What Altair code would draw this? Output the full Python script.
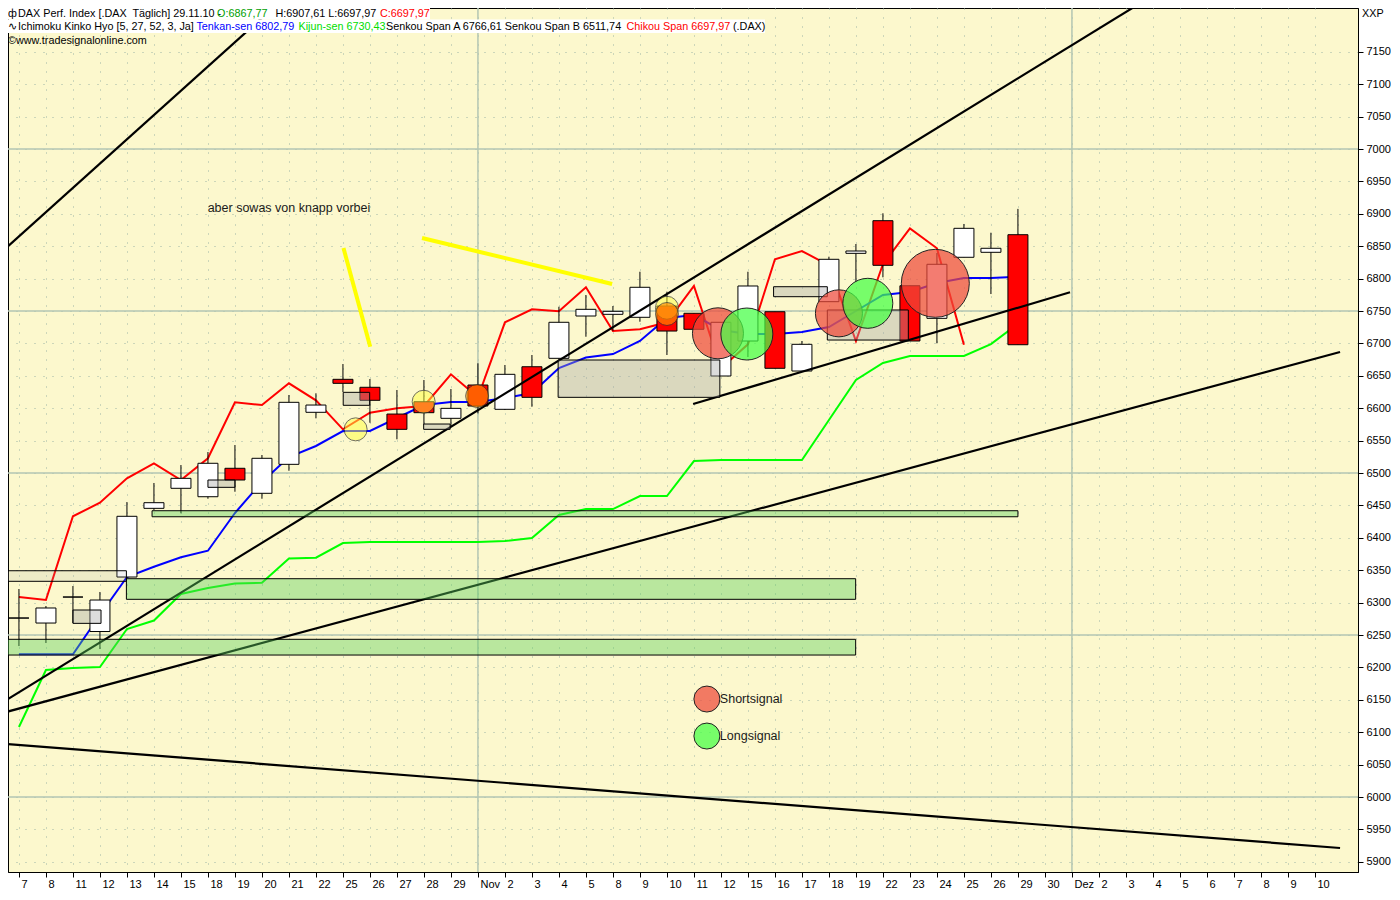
import altair as alt
import pandas as pd

# ---------------- data ----------------
day_labels = ["7", "8", "11", "12", "13", "14", "15", "18", "19", "20", "21", "22", "25", "26", "27", "28", "29",
              "Nov", "2", "3", "4", "5", "8", "9", "10", "11", "12", "15", "16", "17", "18", "19", "22", "23", "24",
              "25", "26", "29", "30",
              "Dez", "2", "3", "4", "5", "6", "7", "8", "9", "10"]
day_pos = list(range(len(day_labels)))

opens = [6276.2, 6268.5, 6308.6, 6255.4, 6339.5, 6445.5, 6476.4, 6463.4, 6507.3, 6468.7,
         6513.4, 6593.7, 6644.6, 6632.3, 6591.0, 6610.0, 6584.4, 6635.8, 6598.3, 6664.0,
         6677.0, 6742.3, 6744.9, 6740.3, 6757.7, 6746.5, 6649.7, 6703.7, 6748.9, 6657.4,
         6764.4, 6839.0, 6889.4, 6789.0, 6738.7, 6832.9, 6840.6, 6867.77]
highs = [6321.0, 6294.8, 6325.6, 6316.4, 6455.2, 6484.6, 6512.3, 6532.4, 6543.2, 6527.8,
         6620.4, 6623.0, 6668.2, 6645.1, 6628.1, 6643.5, 6629.6, 6669.3, 6666.7, 6682.1,
         6756.6, 6774.7, 6757.7, 6810.6, 6779.8, 6746.5, 6732.6, 6810.6, 6748.9, 6703.7,
         6833.8, 6853.4, 6900.8, 6789.0, 6839.5, 6884.3, 6870.8, 6907.61]
lows = [6233.0, 6237.7, 6268.5, 6228.4, 6338.0, 6443.0, 6437.8, 6460.3, 6471.1, 6460.3,
        6503.5, 6584.4, 6625.0, 6577.6, 6552.0, 6575.6, 6571.5, 6592.1, 6597.2, 6602.3,
        6675.5, 6710.3, 6719.1, 6733.5, 6682.1, 6721.8, 6649.7, 6679.0, 6661.6, 6657.4,
        6764.0, 6795.2, 6802.0, 6703.7, 6700.2, 6832.9, 6776.2, 6697.97]
closes = [6276.2, 6291.7, 6308.6, 6304.0, 6433.2, 6454.2, 6491.8, 6515.0, 6489.2, 6522.7,
          6609.1, 6604.9, 6638.4, 6612.2, 6567.4, 6593.1, 6599.8, 6603.4, 6652.3, 6616.8,
          6732.6, 6752.6, 6749.5, 6786.6, 6719.1, 6721.8, 6732.6, 6788.6, 6661.6, 6698.6,
          6829.8, 6842.6, 6820.5, 6703.7, 6822.1, 6877.6, 6846.8, 6697.97]

tenkan = [6220.2, 6220.2, 6220.2, 6280.9, 6339.5, 6355.4, 6369.9, 6380.1, 6438.3, 6486.1,
          6524.7, 6541.7, 6564.8, 6564.8, 6584.9, 6604.9, 6609.6, 6609.6, 6615.7, 6623.5,
          6662.0, 6678.2, 6683.6, 6703.7, 6739.2, 6743.8, 6720.7, 6714.5, 6714.5, 6717.6,
          6725.3, 6750.0, 6774.7, 6779.3, 6793.2, 6800.9, 6800.9, 6802.79]
kijun = [6108.0, 6196.0, 6199.1, 6200.6, 6259.3, 6272.4, 6313.3, 6322.5, 6329.5, 6330.7,
         6368.1, 6369.3, 6392.0, 6393.5, 6393.5, 6393.5, 6393.5, 6393.5, 6395.1, 6399.7,
         6435.2, 6444.4, 6444.4, 6464.5, 6464.5, 6518.5, 6520.1, 6520.1, 6520.1, 6520.1,
         6581.8, 6643.5, 6669.8, 6680.6, 6680.6, 6680.6, 6699.0, 6730.43]
chikou_lag = 2

price_ticks = [5900, 5950, 6000, 6050, 6100, 6150, 6200, 6250, 6300, 6350, 6400, 6450, 6500,
               6550, 6600, 6650, 6700, 6750, 6800, 6850, 6900, 6950, 7000, 7050, 7100, 7150]
major_levels = [6000, 6250, 6500, 6750, 7000]
month_starts = [17, 39]

# drawn trend lines (start / end, in day index and price)
trend_id = ["t1", "t1", "t2", "t2", "t3", "t3", "t4", "t4", "t5", "t5"]
trend_x = [-0.44, 9.735, -0.44, 41.72, -0.44, 48.93, 24.97, 38.93, -0.44, 48.93]
trend_p = [6848.5, 7229.9, 6150.5, 7229.9, 6131.6, 6686.7, 6606.5, 6778.9, 6081.8, 5921.3]

yellow_id = ["y1", "y1", "y2", "y2"]
yellow_x = [12.02, 13.01, 14.93, 21.97]
yellow_p = [6847.2, 6694.9, 6862.7, 6791.7]

band_x1 = [4.93, 3.98, -0.45]
band_x2 = [37.0, 30.99, 30.99]
band_p1 = [6441.8, 6336.9, 6243.4]
band_p2 = [6432.5, 6305.1, 6219.1]

gap_x1 = [2.0, 12.01, 14.99, 7.0, 19.97, 27.95, 29.94]
gap_x2 = [3.04, 12.99, 15.97, 8.0, 25.96, 29.94, 32.94]
gap_p1 = [6288.6, 6624.5, 6575.6, 6489.2, 6674.4, 6787.5, 6751.6]
gap_p2 = [6268.0, 6604.5, 6567.4, 6477.9, 6616.8, 6772.1, 6705.2]

light_x1 = [-0.45]
light_x2 = [3.98]
light_p1 = [6349.2]
light_p2 = [6332.9]

dot_x = [12.47, 14.99, 16.97, 24.0, 24.0]
dot_p = [6567.4, 6610.0, 6618.8, 6755.0, 6745.4]
dot_kind = ["yellow", "yellow", "orange", "yellow", "orange"]

sig_x = [25.89, 26.96, 30.37, 31.44, 33.94, 25.48, 25.48]
sig_p = [6715.6, 6714.5, 6746.4, 6761.9, 6792.7, 6151.2, 6094.1]
sig_kind = ["short", "long", "short", "long", "short", "short", "long"]
sig_diam = [51, 52, 47, 50, 68, 26, 26]

note_text = ["aber sowas von knapp vorbei", "Shortsignal", "Longsignal"]
note_x = [6.99, 25.96, 25.96]
note_p = [6909.0, 6151.2, 6094.1]

# ---------------- build ----------------
W, H = 1350, 864
XS = alt.Scale(domain=[-0.22, 49.41], nice=False, zero=False)
YS = alt.Scale(domain=[5884.3, 7217.6], nice=False, zero=False)
GRID = "#9DB5A5"
BG = "#FCF8CD"
FONT = "Liberation Sans"

label_js = "[" + ",".join("'" + s + "'" for s in day_labels) + "]"

XAX = alt.Axis(
    values=day_pos, labelExpr=label_js + "[round(datum.value)]", grid=True, gridColor=GRID,
    gridDash=[1, 8], gridWidth=1, tickSize=5, tickColor="black", labelAlign="left", labelOffset=2,
    labelPadding=1, labelFontSize=11, labelFont=FONT, labelColor="black", domain=True,
    domainColor="black", title=None, labelFlush=False, labelOverlap=False)
YAX = alt.Axis(
    orient="right", values=price_ticks, format="d", grid=True, gridColor=GRID, gridDash=[1, 8],
    gridWidth=1, tickSize=5, tickColor="black", labelPadding=3, labelFontSize=11, labelFont=FONT,
    labelColor="black", domain=True, domainColor="black", title=None, labelOverlap=False)


def xq(f):
    return alt.X(f"{f}:Q", scale=XS, axis=XAX)


def yq(f):
    return alt.Y(f"{f}:Q", scale=YS, axis=YAX)


n = len(opens)
cdf = pd.DataFrame({"i": list(range(n)), "o": opens, "h": highs, "l": lows, "c": closes})
cdf["fill"] = ["#FFFFFF" if c >= o else "#FF0000" for o, c in zip(opens, closes)]

ind = pd.DataFrame({"i": list(range(n)), "tenkan": tenkan, "kijun": kijun})
chik = pd.DataFrame({"i": list(range(n - chikou_lag)), "v": closes[chikou_lag:]})

hmajor = alt.Chart(pd.DataFrame({"p": major_levels})).mark_rule(color="#B3C6B3", strokeWidth=1.5).encode(
    y=yq("p"))
vmajor = alt.Chart(pd.DataFrame({"i": month_starts})).mark_rule(color="#B3C6B3", strokeWidth=1.5).encode(
    x=xq("i"))

chikou_line = alt.Chart(chik).mark_line(color="#FF0000", strokeWidth=2).encode(x=xq("i"), y=yq("v"))
tenkan_line = alt.Chart(ind).mark_line(color="#0000FF", strokeWidth=2).encode(x=xq("i"), y=yq("tenkan"))
kijun_line = alt.Chart(ind).mark_line(color="#00FF00", strokeWidth=2).encode(x=xq("i"), y=yq("kijun"))

wicks = alt.Chart(cdf).mark_rule(color="black", strokeWidth=1).encode(x=xq("i"), y=yq("l"), y2="h:Q")
bodies = alt.Chart(cdf).mark_bar(size=20, stroke="black", strokeWidth=1).encode(
    x=xq("i"), y=yq("o"), y2="c:Q", fill=alt.Fill("fill:N", scale=None))

tdf = pd.DataFrame({"id": trend_id, "x": trend_x, "p": trend_p})
trends = alt.Chart(tdf).mark_line(color="black", strokeWidth=2.2, clip=True).encode(
    x=xq("x"), y=yq("p"), detail="id:N")

bdf = pd.DataFrame({"x1": band_x1, "x2": band_x2, "p1": band_p1, "p2": band_p2})
bands = alt.Chart(bdf).mark_rect(fill="#5CD05C", fillOpacity=0.42, stroke="black", strokeWidth=1,
                                 clip=True).encode(x=xq("x1"), x2="x2:Q", y=yq("p1"), y2="p2:Q")

ldf = pd.DataFrame({"x1": light_x1, "x2": light_x2, "p1": light_p1, "p2": light_p2})
light_boxes = alt.Chart(ldf).mark_rect(fill="#A8A8A8", fillOpacity=0.16, stroke="black", strokeWidth=1,
                                       clip=True).encode(x=xq("x1"), x2="x2:Q", y=yq("p1"), y2="p2:Q")
gdf = pd.DataFrame({"x1": gap_x1, "x2": gap_x2, "p1": gap_p1, "p2": gap_p2})
gap_boxes = alt.Chart(gdf).mark_rect(fill="#A8A8A8", fillOpacity=0.4, stroke="black", strokeWidth=1,
                                     clip=True).encode(x=xq("x1"), x2="x2:Q", y=yq("p1"), y2="p2:Q")

ydf = pd.DataFrame({"id": yellow_id, "x": yellow_x, "p": yellow_p})
ylines = alt.Chart(ydf).mark_line(color="#FFFF00", strokeWidth=4).encode(x=xq("x"), y=yq("p"), detail="id:N")

dot_colors = {"yellow": "#FFFF40", "orange": "#FF8C00"}
dot_alpha = {"yellow": 0.72, "orange": 0.95}
ddf = pd.DataFrame({"x": dot_x, "p": dot_p, "col": [dot_colors[k] for k in dot_kind],
                    "a": [dot_alpha[k] for k in dot_kind]})
dots = alt.Chart(ddf).mark_circle(size=529, stroke="#333333", strokeWidth=1).encode(
    x=xq("x"), y=yq("p"), fill=alt.Fill("col:N", scale=None),
    fillOpacity=alt.FillOpacity("a:Q", scale=None))

sig_colors = {"short": "#EE4A3A", "long": "#44FF44"}
sdf = pd.DataFrame({"x": sig_x, "p": sig_p, "col": [sig_colors[k] for k in sig_kind],
                    "area": [d * d for d in sig_diam]})
signals = alt.Chart(sdf).mark_circle(fillOpacity=0.72, stroke="#222222", strokeWidth=1).encode(
    x=xq("x"), y=yq("p"), fill=alt.Fill("col:N", scale=None), size=alt.Size("area:Q", scale=None))

ndf = pd.DataFrame({"t": note_text, "x": note_x, "p": note_p})
notes = alt.Chart(ndf).mark_text(align="left", baseline="middle", fontSize=12.5, font=FONT,
                                 color="#1A1A1A").encode(x=xq("x"), y=yq("p"), text="t:N")

# header (chart chrome, pixel placed)
one = pd.DataFrame({"k": [0]})
hdr_boxes = [
    alt.Chart(one).mark_rect(color="white").encode(x=alt.value(0), x2=alt.value(422), y=alt.value(0),
                                                    y2=alt.value(11.5)),
    alt.Chart(one).mark_rect(color="white").encode(x=alt.value(0), x2=alt.value(757), y=alt.value(11.5),
                                                    y2=alt.value(25)),
]
hdr_segments = [
    ("ф", 0, 5.5, "black"),
    ("DAX Perf. Index [.DAX\u00a0 Täglich] 29.11.10 -", 10, 5.5, "black"),
    ("O:6867,77", 209, 5.5, "#00A000"),
    ("H:6907,61 L:6697,97", 267.5, 5.5, "black"),
    ("C:6697,97", 372, 5.5, "#FF0000"),
    ("∿", 0, 18.5, "black"),
    ("Ichimoku Kinko Hyo [5, 27, 52, 3, Ja]", 10, 18.5, "black"),
    ("Tenkan-sen 6802,79", 188.4, 18.5, "#0000FF"),
    ("Kijun-sen 6730,43", 290.5, 18.5, "#00DD00"),
    ("Senkou Span A 6766,61 Senkou Span B 6511,74", 378, 18.5, "black"),
    ("Chikou Span 6697,97", 618.5, 18.5, "#FF0000"),
    ("(.DAX)", 725, 18.5, "black"),
    ("©", 0, 33, "black"),
    ("www.tradesignalonline.com", 8, 33, "black"),
    ("XXP", 1354, 5.5, "black"),
]
hdr_texts = [
    alt.Chart(one).mark_text(text=t, align="left", baseline="middle", fontSize=10.8, font=FONT,
                             color=c).encode(x=alt.value(px), y=alt.value(py))
    for (t, px, py, c) in hdr_segments
]

chart = alt.layer(
    hmajor, vmajor,
    chikou_line, tenkan_line, kijun_line,
    wicks, bodies,
    trends, bands, light_boxes, gap_boxes,
    ylines, dots, signals, notes,
    *hdr_boxes, *hdr_texts,
).properties(
    width=W, height=H, background="white",
    autosize=alt.AutoSizeParams(type="none"),
    padding={"left": 0, "top": 0, "right": 33, "bottom": 20},
).configure_view(fill=BG, stroke="black", strokeWidth=1)

chart.save("out.html", embed_options={"renderer": "svg", "actions": False})
